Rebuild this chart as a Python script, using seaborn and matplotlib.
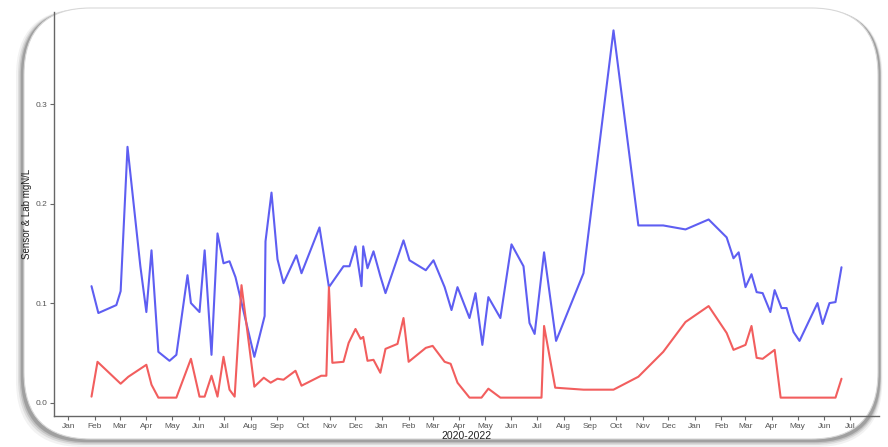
import pandas as pd
import matplotlib
matplotlib.use("Agg")
import matplotlib.pyplot as plt
import matplotlib.dates as mdates
from matplotlib.ticker import FormatStrFormatter
from matplotlib.patches import FancyBboxPatch
import seaborn as sns

# sensor readings (blue)
sensor_dates = [
    "2020-01-28", "2020-02-05", "2020-02-26", "2020-03-02", "2020-03-10", "2020-03-25",
    "2020-04-01", "2020-04-07", "2020-04-15", "2020-04-28", "2020-05-06", "2020-05-19",
    "2020-05-23", "2020-06-02", "2020-06-08", "2020-06-16", "2020-06-23", "2020-06-30",
    "2020-07-07", "2020-07-14", "2020-08-05", "2020-08-17", "2020-08-18", "2020-08-25",
    "2020-09-01", "2020-09-08", "2020-09-23", "2020-09-29", "2020-10-20", "2020-10-31",
    "2020-11-17", "2020-11-24", "2020-12-01", "2020-12-08", "2020-12-10", "2020-12-15",
    "2020-12-22", "2020-12-30", "2021-01-05", "2021-01-26", "2021-02-02", "2021-02-21",
    "2021-03-02", "2021-03-15", "2021-03-23", "2021-03-30", "2021-04-13", "2021-04-20",
    "2021-04-28", "2021-05-05", "2021-05-19", "2021-06-01", "2021-06-15", "2021-06-22",
    "2021-06-28", "2021-07-09", "2021-07-23", "2021-08-24", "2021-09-28", "2021-10-27",
    "2021-11-25", "2021-12-21", "2022-01-17", "2022-02-07", "2022-02-15", "2022-02-21",
    "2022-03-01", "2022-03-08", "2022-03-14", "2022-03-21", "2022-03-30", "2022-04-04",
    "2022-04-12", "2022-04-18", "2022-04-26", "2022-05-03", "2022-05-24", "2022-05-30",
    "2022-06-07", "2022-06-14", "2022-06-21",
]
sensor_values = [
    0.117, 0.090, 0.098, 0.112, 0.257, 0.137,
    0.091, 0.153, 0.051, 0.042, 0.048, 0.128,
    0.100, 0.091, 0.153, 0.048, 0.170, 0.140,
    0.142, 0.126, 0.046, 0.087, 0.162, 0.211,
    0.144, 0.120, 0.148, 0.130, 0.176, 0.116,
    0.137, 0.137, 0.157, 0.117, 0.157, 0.135,
    0.152, 0.127, 0.110, 0.163, 0.143, 0.133,
    0.143, 0.116, 0.093, 0.116, 0.085, 0.110,
    0.058, 0.106, 0.085, 0.159, 0.137, 0.080,
    0.069, 0.151, 0.062, 0.130, 0.374, 0.178,
    0.178, 0.174, 0.184, 0.166, 0.145, 0.151,
    0.116, 0.129, 0.111, 0.110, 0.091, 0.113,
    0.095, 0.095, 0.071, 0.062, 0.100, 0.079,
    0.100, 0.101, 0.136,
]

# lab results (red)
lab_dates = [
    "2020-01-28", "2020-02-04", "2020-03-02", "2020-03-11", "2020-04-01", "2020-04-07",
    "2020-04-15", "2020-05-06", "2020-05-23", "2020-06-02", "2020-06-08", "2020-06-16",
    "2020-06-23", "2020-06-30", "2020-07-07", "2020-07-13", "2020-07-21", "2020-08-05",
    "2020-08-16", "2020-08-24", "2020-09-01", "2020-09-08", "2020-09-22", "2020-09-29",
    "2020-10-22", "2020-10-28", "2020-10-31", "2020-11-04", "2020-11-17", "2020-11-23",
    "2020-12-01", "2020-12-07", "2020-12-10", "2020-12-15", "2020-12-22", "2020-12-30",
    "2021-01-05", "2021-01-19", "2021-01-26", "2021-02-01", "2021-02-21", "2021-03-01",
    "2021-03-15", "2021-03-22", "2021-03-30", "2021-04-13", "2021-04-27", "2021-05-05",
    "2021-05-19", "2021-07-06", "2021-07-09", "2021-07-22", "2021-08-24", "2021-09-28",
    "2021-10-27", "2021-11-25", "2021-12-21", "2022-01-17", "2022-02-07", "2022-02-15",
    "2022-03-01", "2022-03-08", "2022-03-14", "2022-03-21", "2022-04-04", "2022-04-11",
    "2022-06-14", "2022-06-21",
]
lab_values = [
    0.006, 0.041, 0.019, 0.026, 0.038, 0.018,
    0.005, 0.005, 0.044, 0.006, 0.006, 0.027,
    0.006, 0.046, 0.013, 0.006, 0.118, 0.016,
    0.025, 0.020, 0.024, 0.023, 0.032, 0.017,
    0.027, 0.027, 0.116, 0.040, 0.041, 0.060,
    0.074, 0.064, 0.066, 0.042, 0.043, 0.030,
    0.054, 0.059, 0.085, 0.041, 0.055, 0.057,
    0.041, 0.039, 0.020, 0.005, 0.005, 0.014,
    0.005, 0.005, 0.077, 0.015, 0.013, 0.013,
    0.026, 0.051, 0.081, 0.097, 0.070, 0.053,
    0.058, 0.077, 0.045, 0.044, 0.053, 0.005,
    0.005, 0.024,
]

month_ticks = pd.date_range("2020-01-01", "2022-07-01", freq="MS")

sensor = pd.DataFrame({"date": pd.to_datetime(sensor_dates), "value": sensor_values})
lab = pd.DataFrame({"date": pd.to_datetime(lab_dates), "value": lab_values})

sns.set_style("white")
plt.rcParams["font.family"] = ["Liberation Sans", "DejaVu Sans"]

W, H = 888, 447
fig = plt.figure(figsize=(W / 100, H / 100), dpi=100)
fig.patch.set_facecolor("white")

# rounded frame with a soft shadow, like the pasted screenshot
def fig_box(x0, y0, x1, y1, **kw):
    return FancyBboxPatch((x0 / W, 1 - y1 / H), (x1 - x0) / W, (y1 - y0) / H,
                          boxstyle="round,pad=0,rounding_size=0.075",
                          transform=fig.transFigure, mutation_aspect=W / H, **kw)

for off, alpha in [(6, 0.07), (4, 0.12), (2.5, 0.18), (1.2, 0.28)]:
    fig.patches.append(fig_box(22 - off, 9, 880 + off * 0.4, 441 + off,
                               facecolor="#4a4a4a", edgecolor="none", alpha=alpha, zorder=-3))
fig.patches.append(fig_box(24, 8, 878, 439, facecolor="white",
                           edgecolor="#d8d8d8", linewidth=0.8, zorder=-2))

ax = fig.add_axes([54 / W, 1 - 416 / H, (879 - 54) / W, (416 - 12) / H])
ax.set_facecolor("none")
ax.set_zorder(1)

sns.lineplot(data=sensor, x="date", y="value", ax=ax, color="#5e5ef2", linewidth=1.5)
sns.lineplot(data=lab, x="date", y="value", ax=ax, color="#f25e5e", linewidth=1.5)

ax.margins(x=0.05, y=0.05)
ax.set_yticks([0.0, 0.1, 0.2, 0.3])
ax.yaxis.set_major_formatter(FormatStrFormatter("%.1f"))
ax.set_xticks(month_ticks)
ax.xaxis.set_major_formatter(mdates.DateFormatter("%b"))

for side in ["top", "right"]:
    ax.spines[side].set_visible(False)
for side in ["left", "bottom"]:
    ax.spines[side].set_color("#666666")
    ax.spines[side].set_linewidth(1.0)

ax.tick_params(axis="both", which="major", direction="out", length=3, width=0.8,
               bottom=True, left=True,
               color="#666666", labelsize=6, labelcolor="#555555", pad=2)

ax.set_xlabel("2020-2022", fontsize=7.5, color="#222222", labelpad=1)
ax.set_ylabel("Sensor & Lab mgN/L", fontsize=7, color="#222222", labelpad=2)

fig.savefig("out.png", dpi=100, facecolor=fig.get_facecolor())
